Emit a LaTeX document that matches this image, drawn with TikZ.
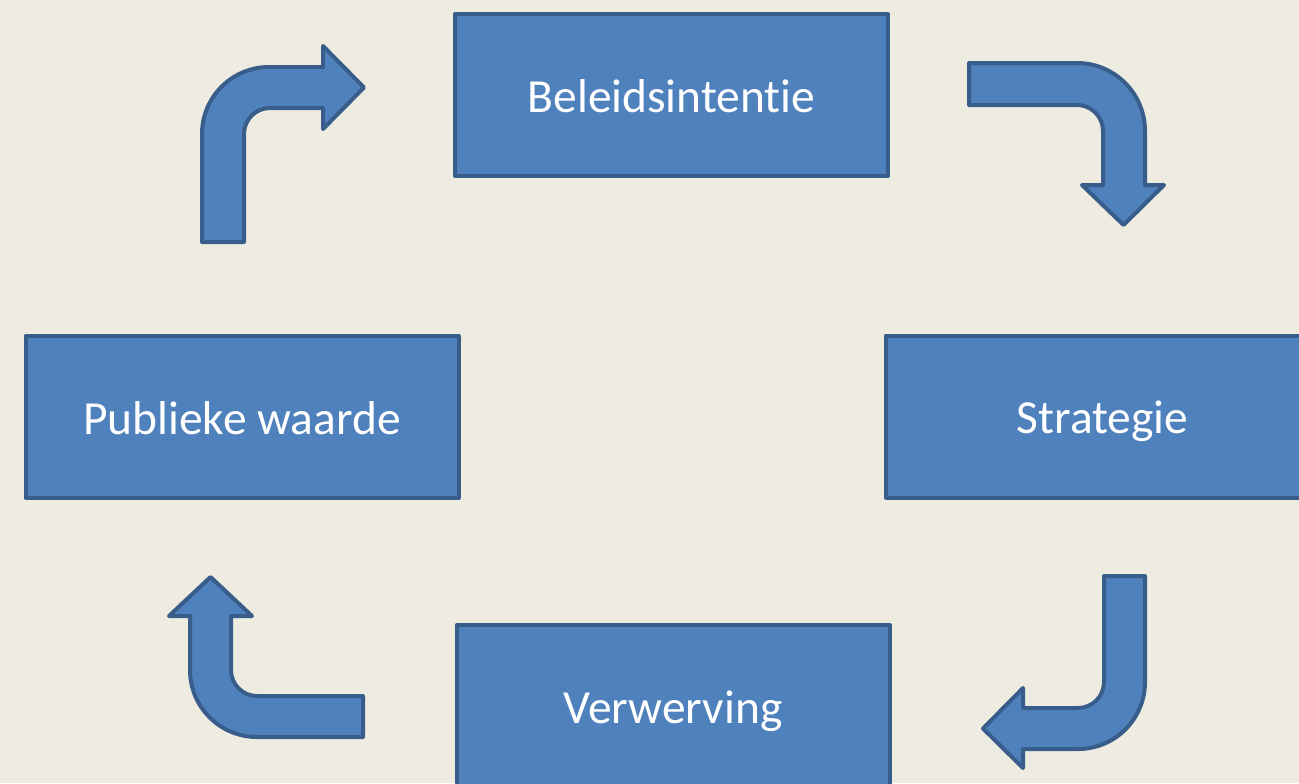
\documentclass[tikz,border=0pt]{standalone}
\usepackage{fontspec}
\setmainfont[Ligatures=NoCommon]{Carlito}
\definecolor{bg}{HTML}{EEECE1}
\definecolor{boxfill}{HTML}{4F81BD}
\definecolor{boxline}{HTML}{385D8A}
\tikzset{
  blockbox/.style={draw=boxline, fill=boxfill, line width=3pt, line join=round,
    minimum width=324.75pt, minimum height=121.5pt, inner sep=0pt,
    text height=25.5pt, text depth=0pt,
    text=white, font=\fontsize{35.6}{42}\selectfont},
  bentarrow/.style={draw=boxline, fill=boxfill, line width=3pt, line join=round}
}
\begin{document}
\begin{tikzpicture}[x=0.75pt, y=-0.75pt]
\useasboundingbox (0,0) rectangle (1299,783);
\fill[bg] (0,0) rectangle (1299,783);
\clip (0,0) rectangle (1299,783);
% boxes
\node[blockbox] (beleid) at (671.5,95) {Beleidsintentie};
\node[blockbox] (publiek) at (242,417) {Publieke waarde};
\node[blockbox] (strat) at (1102.5,416.5) {Strategie};
\node[blockbox] (verw) at (673,706) {Verwerving};
% arrow 1: up then right
\draw[bentarrow] (202,242) -- (202,134) arc[start angle=180, end angle=270, radius=67]
  -- (323,67) -- (323,46) -- (364,87.5) -- (323,129) -- (323,108) -- (270,108)
  arc[start angle=270, end angle=180, radius=26] -- (244,242) -- cycle;
% arrow 2: right then down
\draw[bentarrow] (969,63) -- (1077,63) arc[start angle=270, end angle=360, radius=68]
  -- (1145,185) -- (1164,185) -- (1123.5,225) -- (1082,185) -- (1103,185) -- (1103,131)
  arc[start angle=0, end angle=-90, radius=26] -- (969,105) -- cycle;
% arrow 3: down then left
\draw[bentarrow] (1104,576) -- (1145,576) -- (1145,682) arc[start angle=0, end angle=90, radius=67]
  -- (1023,749) -- (1023,768) -- (983,728.5) -- (1023,688) -- (1023,708) -- (1078,708)
  arc[start angle=90, end angle=0, radius=26] -- cycle;
% arrow 4: left then up
\draw[bentarrow] (363,696) -- (257,696) arc[start angle=90, end angle=180, radius=26]
  -- (231,616) -- (252,616) -- (210.5,577) -- (169,616) -- (190,616) -- (190,670)
  arc[start angle=180, end angle=90, radius=67] -- (363,737) -- cycle;
\end{tikzpicture}
\end{document}
